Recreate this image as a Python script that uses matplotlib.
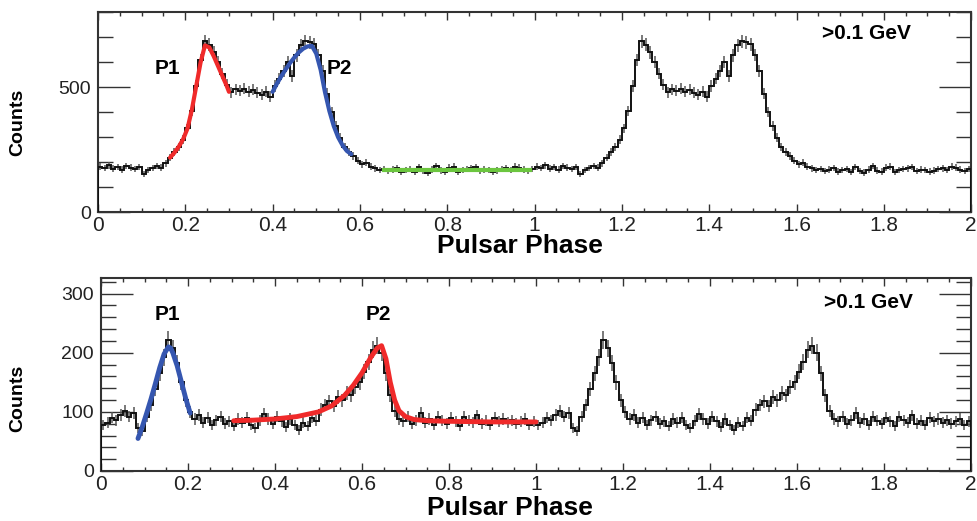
import numpy as np
import matplotlib
matplotlib.use("Agg")
import matplotlib.pyplot as plt
from matplotlib.ticker import MultipleLocator, FixedLocator

plt.rcParams['font.family'] = ['Liberation Sans', 'DejaVu Sans']

# ---- light curves: counts per 0.01 phase bin over one rotation (shown twice) ----
counts_top = [
    182, 176, 188, 174, 180, 170, 185, 178, 172, 180,
    152, 168, 176, 185, 178, 195, 218, 240, 262, 290,
    335, 405, 505, 610, 685, 670, 640, 600, 555, 510,
    480, 492, 486, 495, 482, 490, 478, 470, 482, 462,
    505, 535, 565, 600, 545, 628, 668, 685, 680, 672,
    630, 565, 475, 400, 345, 298, 262, 240, 225, 205,
    192, 198, 182, 175, 168, 172, 165, 170, 176, 162,
    168, 172, 160, 180, 165, 158, 170, 185, 166, 162,
    178, 182, 160, 168, 172, 175, 180, 165, 170, 168,
    162, 166, 172, 175, 168, 182, 178, 170, 165, 172,
]
counts_bottom = [
    78, 82, 90, 86, 95, 102, 92, 98, 72, 68,
    92, 112, 138, 165, 192, 222, 208, 182, 150, 120,
    100, 88, 95, 82, 90, 78, 86, 92, 80, 84,
    76, 88, 82, 90, 78, 72, 85, 96, 88, 80,
    92, 84, 74, 88, 78, 70, 82, 76, 90, 85,
    104, 112, 118, 110, 125, 120, 132, 128, 142, 150,
    168, 185, 205, 212, 200, 165, 128, 102, 88, 84,
    92, 80, 86, 98, 82, 88, 78, 92, 85, 80,
    90, 84, 76, 92, 86, 82, 94, 80, 85, 78,
    90, 84, 88, 82, 86, 80, 84, 88, 78, 84,
]

# ---- fitted peak / background profiles ----
top_p1_phase = [0.165, 0.175, 0.185, 0.195, 0.205, 0.215, 0.225, 0.235, 0.245,
                0.255, 0.265, 0.275, 0.285, 0.295, 0.30]
top_p1_fit = [218, 238, 262, 292, 335, 410, 505, 600, 668, 660, 625, 585, 545, 505, 482]

top_p2_phase = [0.40, 0.41, 0.42, 0.43, 0.44, 0.45, 0.46, 0.47, 0.48, 0.49, 0.50,
                0.51, 0.52, 0.53, 0.54, 0.55, 0.56, 0.57, 0.58]
top_p2_fit = [482, 515, 545, 572, 598, 620, 640, 655, 664, 666, 635, 570, 480, 405,
              345, 300, 268, 245, 232]

top_bkg_phase = [0.655, 0.99]
top_bkg_fit = [168, 168]

bot_p1_phase = [0.085, 0.095, 0.105, 0.115, 0.125, 0.135, 0.145, 0.155, 0.16,
                0.165, 0.175, 0.185, 0.195, 0.205]
bot_p1_fit = [55, 75, 98, 122, 148, 175, 198, 210, 208, 200, 178, 150, 122, 98]

bot_p2_phase = [0.305, 0.35, 0.40, 0.45, 0.50, 0.53, 0.56, 0.58, 0.60, 0.62, 0.635,
                0.645, 0.655, 0.665, 0.675, 0.685, 0.70, 0.72, 0.75, 0.80, 0.90, 1.00]
bot_p2_fit = [85, 86, 88, 92, 100, 110, 128, 145, 166, 192, 208, 212, 190, 150, 120,
              102, 92, 87, 85, 84, 83, 83]

RED = '#f02a2a'
BLUE = '#3556b0'
GREEN = '#6cc63f'


def draw_curve(ax, counts, ylim, minor, ytick_vals):
    vals = np.array(counts + counts, dtype=float)
    edges = np.linspace(0, 2, len(vals) + 1)
    centers = 0.5 * (edges[:-1] + edges[1:])
    err = np.sqrt(vals)
    ax.vlines(centers, vals - err, vals + err, color='#555555', lw=1.1, zorder=2)
    ax.stairs(vals, edges, color='#111111', lw=1.4, zorder=3)
    ax.set_xlim(0, 2)
    ax.set_ylim(*ylim)
    ax.xaxis.set_major_locator(MultipleLocator(0.2))
    ax.xaxis.set_minor_locator(MultipleLocator(0.05))
    ax.yaxis.set_major_locator(FixedLocator(ytick_vals))
    ax.yaxis.set_minor_locator(MultipleLocator(minor))
    ax.xaxis.set_major_formatter(plt.FuncFormatter(lambda v, p: f"{v:g}"))
    ax.tick_params(axis='both', which='both', direction='in', top=True, right=True,
                   color='#333333', width=1.0, labelcolor='#222222')
    ax.tick_params(axis='x', which='major', length=6, labelsize=15, pad=3)
    ax.tick_params(axis='x', which='minor', length=3)
    ax.tick_params(axis='y', which='major', length=23, labelsize=14, pad=5)
    ax.tick_params(axis='y', which='minor', length=11)
    for s in ax.spines.values():
        s.set_linewidth(1.5)
        s.set_color('#333333')


fig = plt.figure(figsize=(9.78, 5.21), dpi=100)
ax1 = fig.add_axes([0.1002, 0.593, 0.8928, 0.384])
ax2 = fig.add_axes([0.1033, 0.096, 0.8895, 0.371])

draw_curve(ax1, counts_top, (0, 802), 100, [0, 500])
ax1.plot(top_p1_phase, top_p1_fit, color=RED, lw=3.0, zorder=4, solid_capstyle='round')
ax1.plot(top_p2_phase, top_p2_fit, color=BLUE, lw=3.0, zorder=4, solid_capstyle='round')
ax1.plot(top_bkg_phase, top_bkg_fit, color=GREEN, lw=3.0, zorder=4)
ax1.text(0.16, 577, 'P1', fontsize=15, fontweight='bold', ha='center', va='center')
ax1.text(0.552, 577, 'P2', fontsize=15, fontweight='bold', ha='center', va='center')
ax1.text(1.76, 714, '>0.1 GeV', fontsize=15, fontweight='bold', ha='center', va='center')

draw_curve(ax2, counts_bottom, (0, 327), 20, [0, 100, 200, 300])
ax2.plot(bot_p1_phase, bot_p1_fit, color=BLUE, lw=3.5, zorder=4, solid_capstyle='round')
ax2.plot(bot_p2_phase, bot_p2_fit, color=RED, lw=3.5, zorder=4, solid_capstyle='round')
ax2.text(0.152, 264, 'P1', fontsize=15, fontweight='bold', ha='center', va='center')
ax2.text(0.637, 264, 'P2', fontsize=15, fontweight='bold', ha='center', va='center')
ax2.text(1.765, 285, '>0.1 GeV', fontsize=15, fontweight='bold', ha='center', va='center')

# axis titles
for ycen in (122, 398):
    fig.text(18 / 978, 1 - ycen / 521, 'Counts', fontsize=14, fontweight='bold',
             rotation=90, ha='center', va='center')
fig.text(520 / 978, 1 - 246 / 521, 'Pulsar Phase', fontsize=19, fontweight='bold',
         ha='center', va='center')
fig.text(510 / 978, 1 - 508 / 521, 'Pulsar Phase', fontsize=19, fontweight='bold',
         ha='center', va='center')

fig.savefig('out.png', dpi=100)
